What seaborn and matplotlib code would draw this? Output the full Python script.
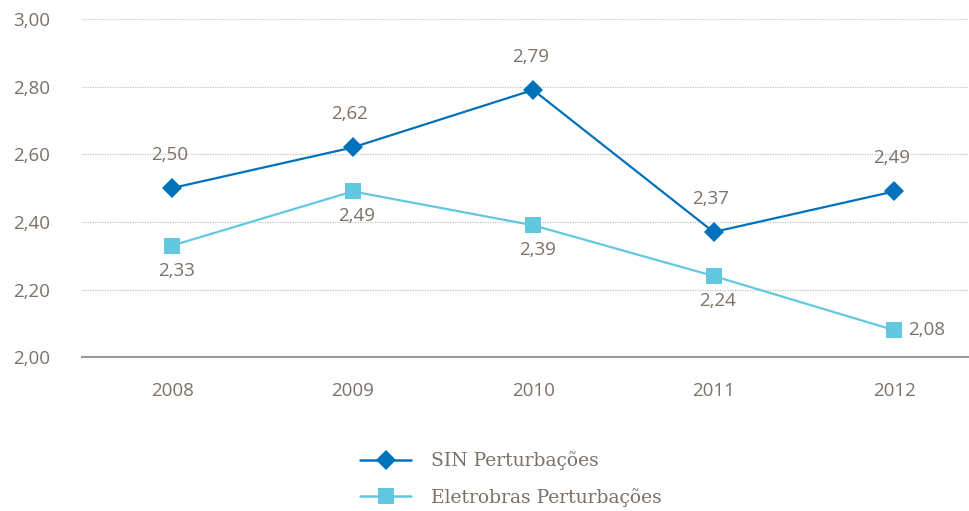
import numpy as np
import pandas as pd
import matplotlib
matplotlib.use('Agg')
import matplotlib.pyplot as plt
import seaborn as sns

years = [2008, 2009, 2010, 2011, 2012]
sin_vals = [2.50, 2.62, 2.79, 2.37, 2.49]
eletro_vals = [2.33, 2.49, 2.39, 2.24, 2.08]
series_names = ['SIN Perturbações', 'Eletrobras Perturbações']

df = pd.DataFrame({
    'Ano': years * 2,
    'Valor': sin_vals + eletro_vals,
    'Serie': [series_names[0]] * len(years) + [series_names[1]] * len(years),
})

sns.set_style('white')
plt.rcParams['font.family'] = ['Open Sans', 'DejaVu Sans']
txt = '#7b7168'
dark = '#0072BC'
light = '#62C8E0'
fs = 13.5

fig = plt.figure(figsize=(9.69, 5.11), dpi=100)
ax = fig.add_axes([0.0846, 0.301, 0.9144, 0.662])

sns.lineplot(data=df, x='Ano', y='Valor', hue='Serie', style='Serie',
             palette={series_names[0]: dark, series_names[1]: light},
             markers={series_names[0]: 'D', series_names[1]: 's'},
             dashes=False, linewidth=1.6, markersize=10.5,
             markeredgewidth=0, ax=ax, legend=False)
# bigger squares for the second series
for line in ax.get_lines()[1:2]:
    line.set_markersize(12)

# data labels
for x, v in zip(years, sin_vals):
    ax.annotate(f'{v:.2f}'.replace('.', ','), (x, v), xytext=(-2, 24),
                textcoords='offset points', ha='center', va='center',
                color=txt, fontsize=fs)
for i, (x, v) in enumerate(zip(years, eletro_vals)):
    if i == len(years) - 1:
        off, ha = (10, 0), 'left'
    else:
        off, ha = (3, -18), 'center'
    ax.annotate(f'{v:.2f}'.replace('.', ','), (x, v), xytext=off,
                textcoords='offset points', ha=ha, va='center',
                color=txt, fontsize=fs)

ax.set_ylim(2.0, 3.0)
ax.set_xlim(2007.5, 2012.41)
ax.set_yticks(np.arange(2.0, 3.01, 0.2))
ax.set_yticklabels([f'{t:.2f}'.replace('.', ',') for t in np.arange(2.0, 3.01, 0.2)])
ax.set_xticks(years)
ax.set_xticklabels([str(y) for y in years])
ax.tick_params(axis='both', length=0, colors=txt, labelsize=fs)
ax.tick_params(axis='y', pad=23)
ax.tick_params(axis='x', pad=18)
ax.set_xlabel('')
ax.set_ylabel('')

for y in np.arange(2.2, 3.01, 0.2):
    ax.axhline(y, color='#c4c4c4', linewidth=0.9, linestyle=(0, (1, 1)), zorder=0)
for s in ['top', 'right', 'left']:
    ax.spines[s].set_visible(False)
ax.spines['bottom'].set_color('#9a9a9a')
ax.spines['bottom'].set_linewidth(1.5)

handles = [
    plt.Line2D([], [], color=dark, marker='D', markersize=10.5, markeredgewidth=0, linewidth=1.8),
    plt.Line2D([], [], color=light, marker='s', markersize=12, markeredgewidth=0, linewidth=1.8),
]
fig.legend(handles, series_names, loc='upper left', bbox_to_anchor=(0.354, 0.15),
           frameon=False, handlelength=2.75, handletextpad=1.05, labelspacing=0.95,
           prop={'family': ['DejaVu Serif'], 'size': fs}, labelcolor=txt)

fig.savefig('out.png', dpi=100)
